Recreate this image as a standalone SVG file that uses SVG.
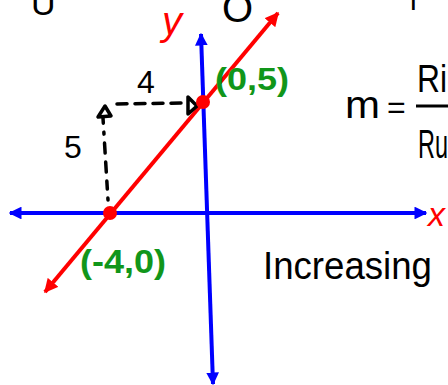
<svg xmlns="http://www.w3.org/2000/svg" width="448" height="385" viewBox="0 0 448 385">
<style>
.axis{stroke:#0000ff;stroke-width:4;fill:none}
.red{stroke:#ff0000;stroke-width:4;fill:none}
.dash{stroke:#000;stroke-width:3.5;fill:none;stroke-linecap:round}
.head{stroke:#000;stroke-width:3.5;fill:#fff;stroke-linejoin:round}
.blk{font-family:"Liberation Sans",Arial,sans-serif;fill:#000}
.grn{font-family:"Liberation Sans",Arial,sans-serif;fill:#11961a;font-weight:bold}
.rtx{font-family:"Liberation Sans",Arial,sans-serif;fill:#ff0000;font-style:italic}
</style>
<defs>
<marker id="bh" viewBox="0 0 10 10" refX="9" refY="5" markerWidth="3.2" markerHeight="3.2" orient="auto-start-reverse" markerUnits="strokeWidth">
<path d="M0,0 L10,5 L0,10 z" fill="#0000ff"/>
</marker>
<marker id="rh" viewBox="0 0 10 10" refX="9" refY="5" markerWidth="3.5" markerHeight="3.5" orient="auto-start-reverse" markerUnits="strokeWidth">
<path d="M0,0 L10,5 L0,10 z" fill="#ff0000"/>
</marker>
</defs>
<rect width="448" height="385" fill="#fff"/>
<g id="fragments">
<text class="blk" x="31" y="15" font-size="34">U</text>
<text class="blk" x="222" y="22" font-size="40">O</text>
<text class="blk" x="410" y="10" font-size="30">l</text>
</g>
<g id="connectors">
<line id="x-axis" class="axis" x1="10" y1="213" x2="426" y2="213" marker-start="url(#bh)" marker-end="url(#bh)"/>
<line id="y-axis" class="axis" x1="201" y1="34" x2="213" y2="384" marker-start="url(#bh)" marker-end="url(#bh)"/>
<line id="red-line" class="red" x1="45" y1="292" x2="278" y2="13" marker-start="url(#rh)" marker-end="url(#rh)"/>
<path id="rise" class="dash" d="M108,200 L103,118" stroke-dasharray="2 9 8 9 10 9 10 9"/>
<polygon class="head" points="105,106 98,117 111,116"/>
<path id="run" class="dash" d="M117,104 L186,103" stroke-dasharray="10 8"/>
<polygon class="head" points="197,106 188,97 188,114"/>
</g>
<g id="points">
<circle id="p05" cx="203" cy="102" r="7" fill="#ff0000"/>
<circle id="p40" cx="110" cy="213" r="7" fill="#ff0000"/>
</g>
<g id="labels">
<text class="rtx" x="162" y="35" font-size="40">y</text>
<text class="rtx" x="428" y="226" font-size="34">x</text>
<text class="grn" x="215" y="90" font-size="32" textLength="74" lengthAdjust="spacingAndGlyphs">(0,5)</text>
<text class="grn" x="80" y="273" font-size="33" textLength="86" lengthAdjust="spacingAndGlyphs">(-4,0)</text>
<text class="blk" x="137" y="93" font-size="32">4</text>
<text class="blk" x="64" y="158" font-size="32">5</text>
<text class="blk" x="345" y="118" font-size="38" textLength="35" lengthAdjust="spacingAndGlyphs">m</text>
<text class="blk" x="387" y="118" font-size="32">=</text>
<line x1="416" y1="106" x2="448" y2="106" stroke="#000" stroke-width="3"/>
<text class="blk" x="417" y="92" font-size="38" textLength="30" lengthAdjust="spacingAndGlyphs">Ri</text>
<text class="blk" x="418" y="158" font-size="40" textLength="30" lengthAdjust="spacingAndGlyphs">Ru</text>
<text class="blk" x="263" y="279" font-size="38" textLength="169" lengthAdjust="spacingAndGlyphs">Increasing</text>
</g>
</svg>
